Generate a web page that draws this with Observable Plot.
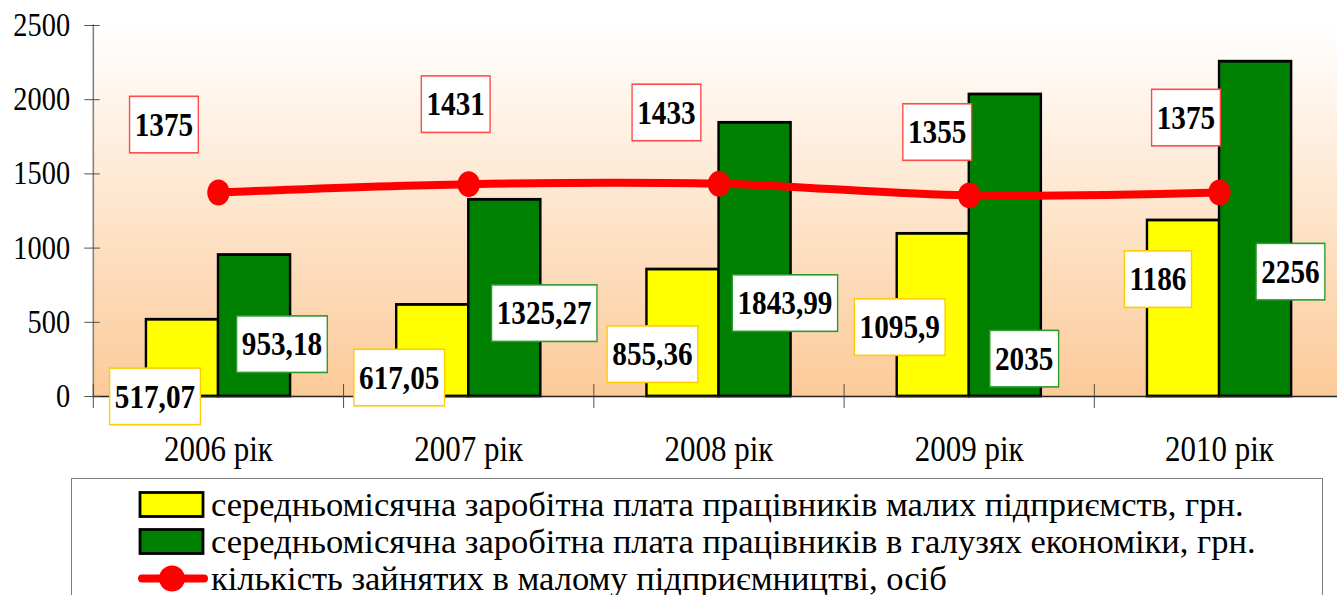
<!DOCTYPE html>
<html>
<head>
<meta charset="utf-8">
<script src="https://cdn.jsdelivr.net/npm/d3@7"></script>
<script src="https://cdn.jsdelivr.net/npm/@observablehq/plot@0.6"></script>
<style>
html, body { margin:0; padding:0; background:#fff; overflow:hidden; width:1337px; height:595px; }
#wrap { position:absolute; left:0; top:0; width:1563px; height:480px; transform:scaleX(0.86); transform-origin:0 0;
        font-family:"Liberation Serif","Times New Roman",serif; color:#000; }
#chart svg { display:block; }
#legend { position:absolute; left:71px; top:478px; width:1252px; height:200px; box-sizing:border-box;
          border:1.7px solid #7f7f7f; padding-top:7px; background:#fff;
          font-family:"Liberation Serif","Times New Roman",serif; color:#000; }
#legend .row { height:37px; display:flex; align-items:center; padding-left:66px; font-size:34.5px; line-height:37px; white-space:nowrap; }
#legend .sw { width:73px; height:37px; flex:none; }
</style>
</head>
<body>
<div id="wrap">
  <div id="chart"></div>
</div>
<div id="legend"></div>
<script>
// ---- data ----
const years = ["2006 рік", "2007 рік", "2008 рік", "2009 рік", "2010 рік"];
const smallWage = [517.07, 617.05, 855.36, 1095.9, 1186];
const econWage = [953.18, 1325.27, 1843.99, 2035, 2256];
const employed = [1375, 1431, 1433, 1355, 1375];
const yTicks = [0, 500, 1000, 1500, 2000, 2500];
const seriesNames = [
  "середньомісячна заробітна плата працівників малих підприємств, грн.",
  "середньомісячна заробітна плата працівників в галузях економіки, грн.",
  "кількість зайнятих в малому підприємництві, осіб"
];
// manual label placements (screen px offsets from each value's anchor)
const smallLabelOffsets = [[-63.5, 77], [-69.5, 73], [-66.5, 85], [-69.5, 93.6], [-61.5, 59]];
const econLabelOffsets = [[63.5, 89.5], [75.5, 113.7], [66, 180.6], [55, 264.5], [71, 210.3]];
const empLabelOffsets = [[-54.5, -67.5], [-13, -79.6], [-52.5, -71], [-32, -63], [-33.5, -74.5]];

// ---- layout ----
const S = 0.86;          // horizontal compression of the original picture
const W = 1563;
const ML = 108;
const bw = (W - ML) / years.length;
const fmt = v => String(v).replace(".", ",");

const rows = years.map((y, i) => ({year: y, small: smallWage[i], econ: econWage[i], emp: employed[i]}));

const gradient = () => {
  const defs = d3.create("svg:defs");
  const g = defs.append("linearGradient").attr("id", "bgGrad")
    .attr("x1", 0).attr("y1", 0).attr("x2", 0).attr("y2", 1);
  g.append("stop").attr("offset", "0%").attr("stop-color", "#ffffff");
  g.append("stop").attr("offset", "100%").attr("stop-color", "#FCCA98");
  return defs.node();
};

const labelMarks = [];
rows.forEach((r, i) => {
  labelMarks.push(Plot.text([r], {x: "year", y: "small", text: d => fmt(d.small),
    dx: smallLabelOffsets[i][0] / S, dy: smallLabelOffsets[i][1],
    fontSize: 34, fontWeight: "bold", fill: "#000", ariaLabel: () => "lbl-yellow"}));
  labelMarks.push(Plot.text([r], {x: "year", y: "econ", text: d => fmt(d.econ),
    dx: econLabelOffsets[i][0] / S, dy: econLabelOffsets[i][1],
    fontSize: 34, fontWeight: "bold", fill: "#000", ariaLabel: () => "lbl-green"}));
  labelMarks.push(Plot.text([r], {x: "year", y: "emp", text: d => fmt(d.emp),
    dx: empLabelOffsets[i][0] / S, dy: empLabelOffsets[i][1],
    fontSize: 34, fontWeight: "bold", fill: "#000", ariaLabel: () => "lbl-red"}));
});

const chart = Plot.plot({
  width: W,
  height: 478,
  marginLeft: ML,
  marginRight: 0,
  marginTop: 25,
  marginBottom: 82,
  style: {fontFamily: "Liberation Serif, Times New Roman, serif", background: "transparent", color: "#000", overflow: "visible"},
  x: {type: "band", domain: years, padding: 0},
  y: {domain: [0, 2500]},
  marks: [
    gradient,
    Plot.frame({fill: "url(#bgGrad)", stroke: null}),
    Plot.barY(rows, {x: "year", y: "small", fill: "#FFFF00", stroke: "#000", strokeWidth: 2.8,
      insetLeft: 0.212 * bw, insetRight: 0.5 * bw}),
    Plot.barY(rows, {x: "year", y: "econ", fill: "#008000", stroke: "#000", strokeWidth: 2.8,
      insetLeft: 0.5 * bw, insetRight: 0.212 * bw}),
    Plot.ruleY([0], {stroke: "#222", strokeWidth: 1.4}),
    Plot.frame({anchor: "left", stroke: "#808080", strokeWidth: 1.8}),
    Plot.axisY({ticks: yTicks, tickSize: 0, tickPadding: 27, fontSize: 33, tickFormat: d => String(d), label: null}),
    Plot.axisY({ticks: yTicks, tickSize: 18, dx: 8, tickFormat: () => "", stroke: "#444", label: null}),
    Plot.axisX({tickSize: 0, tickPadding: 39, fontSize: 36, label: null}),
    Plot.axisX({tickSize: 24, dx: -bw / 2, dy: -12, tickFormat: () => "", stroke: "#444", label: null}),
    Plot.line(rows, {x: "year", y: "emp", stroke: "#FF0000", strokeWidth: 8, curve: "catmull-rom"}),
    Plot.dot(rows, {x: "year", y: "emp", r: 13, fill: "#FF0000", stroke: null}),
    ...labelMarks
  ]
});

document.getElementById("chart").append(chart);

// white boxes behind the value labels
const borderColors = {"lbl-yellow": "#FFCC00", "lbl-green": "#2E9A2E", "lbl-red": "#FF4A4A"};
const order = ["lbl-yellow", "lbl-green", "lbl-red"];
let texts = Array.from(chart.querySelectorAll("text[aria-label^='lbl-']"));
if (!texts.length) {
  texts = [];
  chart.querySelectorAll("g[aria-label='text']").forEach((g, i) => {
    g.querySelectorAll("text").forEach(t => { t.setAttribute("aria-label", order[i % 3]); texts.push(t); });
  });
}
texts.forEach(t => {
  const col = borderColors[t.getAttribute("aria-label")] || "#888";
  const b = t.getBBox();
  const padX = 6, padY = 9.5;
  const r = document.createElementNS("http://www.w3.org/2000/svg", "rect");
  r.setAttribute("x", b.x - padX);
  r.setAttribute("y", b.y - padY);
  r.setAttribute("width", b.width + 2 * padX);
  r.setAttribute("height", b.height + 2 * padY);
  r.setAttribute("fill", "#fff");
  r.setAttribute("stroke", col);
  r.setAttribute("stroke-width", 1.6);
  const tr = t.getAttribute("transform");
  if (tr) r.setAttribute("transform", tr);
  t.parentNode.insertBefore(r, t);
});

// legend
const swatches = [
  '<svg width="73" height="37"><rect x="2" y="6.5" width="63" height="24" fill="#FFFF00" stroke="#000" stroke-width="2.8"/></svg>',
  '<svg width="73" height="37"><rect x="2" y="6.5" width="63" height="24" fill="#008000" stroke="#000" stroke-width="2.8"/></svg>',
  '<svg width="73" height="37"><line x1="4" y1="18.5" x2="66" y2="18.5" stroke="#FF0000" stroke-width="8" stroke-linecap="round"/><circle cx="34" cy="18.5" r="13" fill="#FF0000"/></svg>'
];
const legend = d3.select("#legend");
seriesNames.forEach((name, i) => {
  const row = legend.append("div").attr("class", "row");
  row.append("span").attr("class", "sw").html(swatches[i]);
  row.append("span").text(name);
});
</script>
</body>
</html>
